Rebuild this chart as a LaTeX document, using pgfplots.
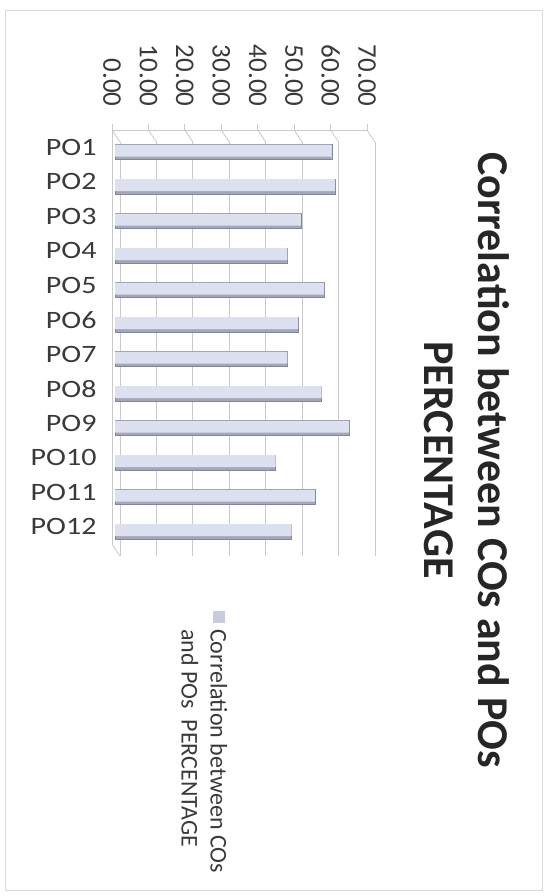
\documentclass[border=0pt]{standalone}
\usepackage{pgfplots}
\pgfplotsset{compat=1.18}
\usepackage{fontspec}
\setmainfont{Carlito}
\newfontfamily\catfont{Carlito}[FakeStretch=1.2]
\definecolor{barlight}{HTML}{DDE0EE}
\definecolor{bardark}{HTML}{A4A7BC}
\definecolor{legsq}{HTML}{C9CCE0}
\definecolor{gridc}{HTML}{C9C9C9}
\definecolor{txt}{HTML}{3A3A3A}
\begin{document}
\begin{tikzpicture}[x=1pt,y=1pt]
\path[use as bounding box] (0,0) rectangle (550,-896);
\draw[gridc!70, line width=1pt] (5,-11) rectangle (542,-890);
\begin{axis}[
  at={(112pt,-130pt)}, anchor=north west,
  scale only axis, width=255pt, height=414pt,
  xbar, xmin=0, xmax=70,
  ymin=0.5, ymax=12.5, y dir=reverse,
  axis x line*=top, axis y line*=left,
  axis line style={draw=gridc, line width=0.8pt},
  xtick={0,10,...,70},
  xmajorgrids, major grid style={draw=gridc, line width=0.8pt, xshift=8pt, yshift=-12pt},
  tick align=outside, major tick length=6pt, tick style={draw=gridc, line width=0.8pt},
  xticklabel style={rotate=-90, anchor=east, font=\fontsize{27}{30}\selectfont, text=txt},
  xticklabel shift=14pt,
  /pgf/number format/.cd, fixed, zerofill, precision=2, assume math mode=true, /pgfplots/.cd,
  ytick={1,...,12},
  yticklabels={PO1,PO2,PO3,PO4,PO5,PO6,PO7,PO8,PO9,PO10,PO11,PO12},
  ytick style={draw=none},
  minor ytick={0.5,1.5,...,12.5},
  minor tick length=7pt, minor tick style={draw=gridc, line width=0.8pt},
  yticklabel style={font=\catfont\fontsize{25}{28}\selectfont, text=txt},
  yticklabel shift=6pt,
  clip=false,
]
\pgfplotsinvokeforeach{0,10,...,70}{
  \draw[gridc, line width=0.8pt] (axis cs:#1,0.5) -- ++(8pt,-12pt);
}
\draw[gridc, line width=0.8pt] (axis cs:0,12.5) -- ++(8pt,-12pt);
\addplot[xshift=3pt, fill=bardark, draw=bardark!80!black, bar width=15pt, bar shift=-4.75pt, forget plot] coordinates {
(59.5,1) (60.4,2) (51.0,3) (47.3,4) (57.4,5) (50.3,6)
(47.3,7) (56.7,8) (64.3,9) (44.1,10) (54.9,11) (48.5,12)};
\addplot[xshift=3pt, fill=barlight, draw=none, bar width=12pt, bar shift=-3.25pt, forget plot] coordinates {
(59.5,1) (60.4,2) (51.0,3) (47.3,4) (57.4,5) (50.3,6)
(47.3,7) (56.7,8) (64.3,9) (44.1,10) (54.9,11) (48.5,12)};
\end{axis}
\node[rotate=-90, align=center, font=\bfseries\fontsize{44}{54}\selectfont, text=black!85] at (467,-460)
  {Correlation between COs and POs\\PERCENTAGE};
\node[rotate=-90, anchor=north west, inner sep=0pt, font=\fontsize{24}{29}\selectfont, text=txt] at (231,-611)
  {\begin{tabular}[t]{@{}l@{\hspace{6pt}}l@{}}\raisebox{2pt}{\textcolor{legsq}{\rule{12pt}{12pt}}} & Correlation between COs\\ & and POs\ \ PERCENTAGE\end{tabular}};
\end{tikzpicture}
\end{document}
